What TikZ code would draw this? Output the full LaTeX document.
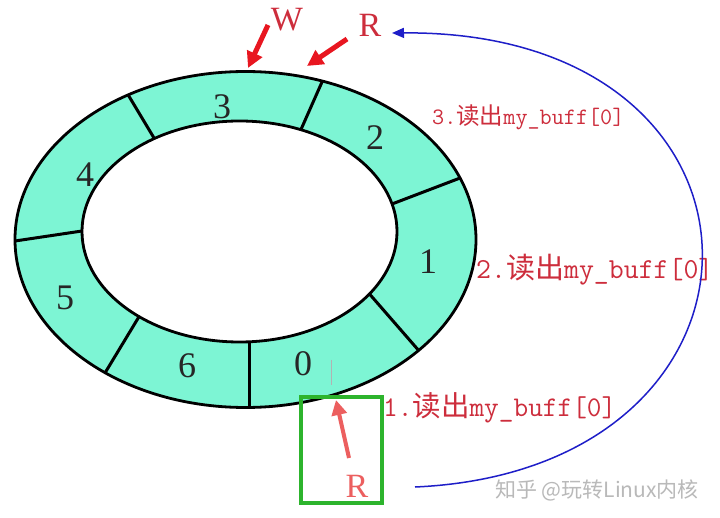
\documentclass[tikz,border=0pt]{standalone}
\usepackage{fontspec}
\setmainfont{Liberation Serif}
\newfontfamily\cjk{Noto Sans CJK SC}
\usetikzlibrary{arrows.meta,calc}
\definecolor{ringfill}{RGB}{125,245,212}
\definecolor{arrowred}{RGB}{232,22,32}
\definecolor{labred}{RGB}{205,45,60}
\definecolor{softred}{RGB}{236,95,95}
\definecolor{boxgreen}{RGB}{45,180,45}
\definecolor{arcblue}{RGB}{30,30,200}
\tikzset{
  digit/.style={font=\fontsize{36}{36}\selectfont, text=black!85, inner sep=0pt},
  toplabel/.style={font=\fontsize{34}{34}\selectfont, text=labred, inner sep=0pt},
  readlabel/.style={text=labred, inner sep=0pt, anchor=west},
  divider/.style={line width=3pt, black},
  redarrow/.style={line width=5pt, arrowred, -{Triangle[length=16pt,width=16pt]}},
}
\begin{document}
\begin{tikzpicture}[x=1pt,y=-1pt]
\useasboundingbox (0,0) rectangle (720,518);
\fill[white] (0,0) rectangle (720,518);
% ring
\fill[ringfill, even odd rule] (245.5,239.5) ellipse [x radius=230.5, y radius=168] (239.5,231.5) ellipse [x radius=157.5, y radius=110.5];
\begin{scope}[even odd rule]
\clip (245.5,239.5) ellipse [x radius=230.5, y radius=168] (239.5,231.5) ellipse [x radius=157.5, y radius=110.5];
\coordinate (d1a) at (130,98);  \coordinate (d1b) at (157,143);
\coordinate (d2a) at (15,241);  \coordinate (d2b) at (82,231);
\coordinate (d3a) at (108,368); \coordinate (d3b) at (137,320);
\coordinate (d4a) at (249,408); \coordinate (d4b) at (249,343);
\coordinate (d5a) at (420,352); \coordinate (d5b) at (373,298);
\coordinate (d6a) at (468,175); \coordinate (d6b) at (392,204);
\coordinate (d7a) at (322,82);  \coordinate (d7b) at (299,134);
\foreach \i in {1,...,7}{
  \draw[divider] ($(d\i a)!-0.4!(d\i b)$) -- ($(d\i b)!-0.4!(d\i a)$);
}
\end{scope}
\draw[line width=2.8pt] (245.5,239.5) ellipse [x radius=230.5, y radius=168];
\draw[line width=2.8pt] (239.5,231.5) ellipse [x radius=157.5, y radius=110.5];
% cells
\node[digit] (c3) at (222,107) {3};
\node[digit] (c2) at (375,138) {2};
\node[digit] (c4) at (85,175) {4};
\node[digit] (c1) at (428,262) {1};
\node[digit] (c5) at (65,298) {5};
\node[digit] (c6) at (187,366) {6};
\node[digit] (c0) at (303,364) {0};
\draw[gray!60, line width=1pt] (331,360) -- (331,385);
% top labels and arrows
\node[toplabel] (W) at (287,20) {W};
\node[toplabel] (Rtop) at (370,25) {R};
\coordinate (wtail) at (268,25); \coordinate (wtip) at (248,68);
\coordinate (rtail) at (347,39); \coordinate (rtip) at (307,66);
\draw[redarrow] (wtail) -- (wtip);
\draw[redarrow] (rtail) -- (rtip);
% read labels
\node[readlabel, font=\fontsize{23.5}{23.5}\selectfont\ttfamily] (l3) at (432,117) {3.{\cjk 读出}my\_buff[0]};
\node[readlabel, font=\fontsize{29}{29}\selectfont\ttfamily] (l2) at (476,270) {2.{\cjk 读出}my\_buff[0]};
\node[readlabel, font=\fontsize{28.5}{28.5}\selectfont\ttfamily] (l1) at (383,408) {1.{\cjk 读出}my\_buff[0]};
% green box with R
\node[draw=boxgreen, line width=4pt, minimum width=81pt, minimum height=106pt, inner sep=0pt] (box) at (341.5,450) {};
\node[font=\fontsize{34}{34}\selectfont, text=softred, inner sep=0pt] (Rbot) at (357,486) {R};
\coordinate (btail) at (349,458); \coordinate (btip) at (336,400);
\draw[line width=4pt, softred, -{Triangle[length=15pt,width=15pt]}] (btail) -- (btip);
% blue arc
\coordinate (arcstart) at (415,487);
\coordinate (arcend) at (392,33);
\draw[arcblue, line width=1.5pt, -{Triangle[length=12pt,width=10pt]}] (arcstart) .. controls (800,470) and (800,30) .. (arcend);
% watermark
\node[anchor=west, inner sep=0pt, text=gray!55, font=\cjk\fontsize{21}{21}\selectfont] (wm) at (495,490) {知乎 @玩转Linux内核};
\end{tikzpicture}
\end{document}
